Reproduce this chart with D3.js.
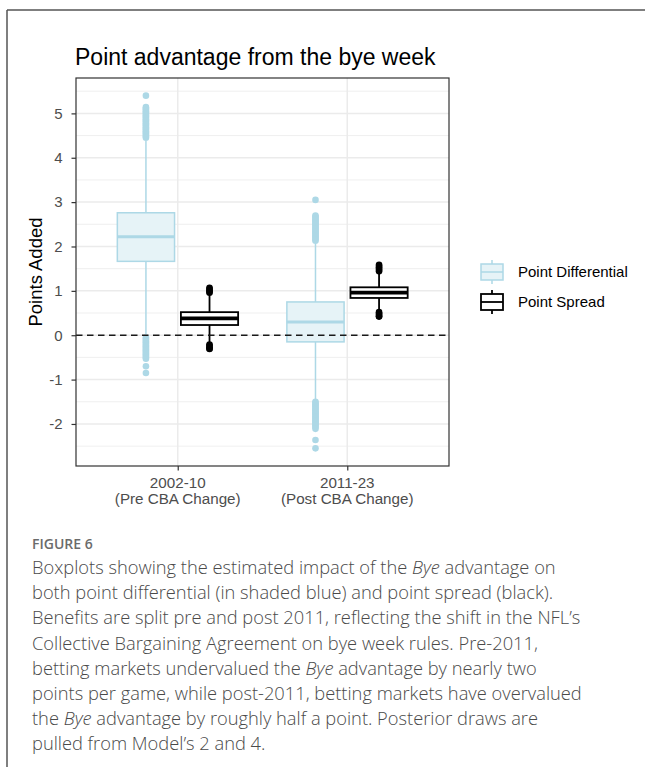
<!DOCTYPE html>
<html>
<head>
<meta charset="utf-8">
<script src="https://cdn.jsdelivr.net/npm/d3@7"></script>
<style>
  body { margin: 0; background: #fff; }
  svg { display: block; }
</style>
</head>
<body>
<svg></svg>
<script>
// categories and groups
const categories = ["2002-10", "2011-23"];
const categoryNotes = ["(Pre CBA Change)", "(Post CBA Change)"];
const groups = ["Point Differential", "Point Spread"];
const yTicks = [-2, -1, 0, 1, 2, 3, 4, 5];

// box stats, one value per category (pre, post)
const diffLow = [0.03, -1.47];
const diffQ1 = [1.665, -0.15];
const diffMedian = [2.22, 0.30];
const diffQ3 = [2.76, 0.75];
const diffHigh = [4.38, 2.07];

const spreadLow = [-0.18, 0.55];
const spreadQ1 = [0.23, 0.84];
const spreadMedian = [0.38, 0.96];
const spreadQ3 = [0.52, 1.08];
const spreadHigh = [0.94, 1.41];

// outliers
const diffOutliersPre = [5.40, 5.14, 5.11, 5.08, 5.05, 5.02, 4.99, 4.96, 4.93, 4.90, 4.87, 4.84, 4.81,
  4.78, 4.75, 4.72, 4.69, 4.66, 4.63, 4.60, 4.57, 4.54, 4.51, 4.48, 4.45,
  -0.05, -0.08, -0.11, -0.14, -0.17, -0.20, -0.23, -0.26, -0.29, -0.32, -0.35, -0.38, -0.41,
  -0.44, -0.47, -0.50, -0.53, -0.70, -0.85];
const diffOutliersPost = [3.05, 2.70, 2.67, 2.64, 2.61, 2.58, 2.55, 2.52, 2.49, 2.46, 2.43, 2.40, 2.37,
  2.34, 2.31, 2.28, 2.25, 2.22, 2.19, 2.16, 2.13,
  -1.50, -1.53, -1.56, -1.59, -1.62, -1.65, -1.68, -1.71, -1.74, -1.77, -1.80, -1.83, -1.86,
  -1.89, -1.92, -1.95, -1.98, -2.01, -2.04, -2.07, -2.11, -2.36, -2.55];
const spreadOutliersPre = [1.07, 1.04, 1.01, 0.98, 0.96, -0.21, -0.24, -0.27, -0.30, -0.31];
const spreadOutliersPost = [1.59, 1.56, 1.53, 1.50, 1.47, 1.44, 0.52, 0.49, 0.46, 0.43, 0.42];

const diffOutliers = [diffOutliersPre, diffOutliersPost];
const spreadOutliers = [spreadOutliersPre, spreadOutliersPost];

const captionLines = [
  ["Boxplots showing the estimated impact of the ", ["Bye"], " advantage on"],
  ["both point differential (in shaded blue) and point spread (black)."],
  ["Benefits are split pre and post 2011, reflecting the shift in the NFL\u2019s"],
  ["Collective Bargaining Agreement on bye week rules. Pre-2011,"],
  ["betting markets undervalued the ", ["Bye"], " advantage by nearly two"],
  ["points per game, while post-2011, betting markets have overvalued"],
  ["the ", ["Bye"], " advantage by roughly half a point. Posterior draws are"],
  ["pulled from Model\u2019s 2 and 4."]
];

let width = 645;
let height = 767;
let panel = { left: 76, right: 449, top: 78, bottom: 466 };
let plotFont = "'Liberation Sans', Arial, sans-serif";

let blue = "#add8e6";
let blueFill = "#e6f3f7";

let svg = d3.select("svg").attr("width", width).attr("height", height);

// build one row per box
let boxes = [];
categories.forEach((c, i) => {
  boxes.push({ cat: i, group: groups[0], low: diffLow[i], q1: diffQ1[i], med: diffMedian[i],
    q3: diffQ3[i], high: diffHigh[i], out: diffOutliers[i], stroke: blue, fill: blueFill, pt: blue, sw: 1.5 });
  boxes.push({ cat: i, group: groups[1], low: spreadLow[i], q1: spreadQ1[i], med: spreadMedian[i],
    q3: spreadQ3[i], high: spreadHigh[i], out: spreadOutliers[i], stroke: "#000", fill: "#fff", pt: "#000", sw: 1.8 });
});

// scales
let allVals = boxes.flatMap(b => b.out.concat([b.low, b.high]));
let yMin = d3.min(allVals), yMax = d3.max(allVals);
let yPad = (yMax - yMin) * 0.05;
let yScale = d3.scaleLinear().domain([yMin - yPad, yMax + yPad]).range([panel.bottom, panel.top]);

let xScale = d3.scaleLinear().domain([0.4, categories.length + 0.6]).range([panel.left, panel.right]);
let groupScale = d3.scaleBand().domain(groups).range([-0.375, 0.375]).paddingInner(0.1).paddingOuter(0.05);
let bw = groupScale.bandwidth();

let boxLeft = (b) => xScale(b.cat + 1 + groupScale(b.group));
let boxRight = (b) => xScale(b.cat + 1 + groupScale(b.group) + bw);
let boxMid = (b) => xScale(b.cat + 1 + groupScale(b.group) + bw / 2);

// outer frame
svg.append("line").attr("x1", 7).attr("x2", width).attr("y1", 10).attr("y2", 10)
  .attr("stroke", "#555").attr("stroke-width", 1.5);
svg.append("line").attr("x1", 7).attr("x2", 7).attr("y1", 10).attr("y2", height)
  .attr("stroke", "#555").attr("stroke-width", 1.5);

// panel
svg.append("rect").attr("x", panel.left).attr("y", panel.top)
  .attr("width", panel.right - panel.left).attr("height", panel.bottom - panel.top).attr("fill", "#fff");

let minorTicks = [yTicks[0] - 0.5].concat(yTicks.map(t => t + 0.5));
svg.append("g").selectAll("line").data(minorTicks).enter().append("line")
  .attr("x1", panel.left).attr("x2", panel.right)
  .attr("y1", d => yScale(d)).attr("y2", d => yScale(d))
  .attr("stroke", "#ebebeb").attr("stroke-width", 0.8);
svg.append("g").selectAll("line").data(yTicks).enter().append("line")
  .attr("x1", panel.left).attr("x2", panel.right)
  .attr("y1", d => yScale(d)).attr("y2", d => yScale(d))
  .attr("stroke", "#ebebeb").attr("stroke-width", 1.5);
svg.append("g").selectAll("line").data(categories).enter().append("line")
  .attr("x1", (d, i) => xScale(i + 1)).attr("x2", (d, i) => xScale(i + 1))
  .attr("y1", panel.top).attr("y2", panel.bottom)
  .attr("stroke", "#ebebeb").attr("stroke-width", 1.5);

// boxplots
let boxG = svg.append("g").selectAll("g").data(boxes).enter().append("g");

boxG.append("line").attr("x1", boxMid).attr("x2", boxMid)
  .attr("y1", b => yScale(b.q3)).attr("y2", b => yScale(b.high))
  .attr("stroke", b => b.stroke).attr("stroke-width", b => b.sw);
boxG.append("line").attr("x1", boxMid).attr("x2", boxMid)
  .attr("y1", b => yScale(b.q1)).attr("y2", b => yScale(b.low))
  .attr("stroke", b => b.stroke).attr("stroke-width", b => b.sw);
boxG.append("rect").attr("x", boxLeft).attr("width", b => boxRight(b) - boxLeft(b))
  .attr("y", b => yScale(b.q3)).attr("height", b => yScale(b.q1) - yScale(b.q3))
  .attr("fill", b => b.fill).attr("stroke", b => b.stroke).attr("stroke-width", b => b.sw);
boxG.append("line").attr("x1", boxLeft).attr("x2", boxRight)
  .attr("y1", b => yScale(b.med)).attr("y2", b => yScale(b.med))
  .attr("stroke", b => b.stroke).attr("stroke-width", b => b.sw * 2);
boxG.selectAll("circle").data(b => b.out.map(v => ({ v: v, b: b }))).enter().append("circle")
  .attr("cx", d => boxMid(d.b)).attr("cy", d => yScale(d.v)).attr("r", 3.3)
  .attr("fill", d => d.b.pt);

// zero line
svg.append("line").attr("x1", panel.left).attr("x2", panel.right)
  .attr("y1", yScale(0)).attr("y2", yScale(0))
  .attr("stroke", "#1a1a1a").attr("stroke-width", 1.5).attr("stroke-dasharray", "6.5,4.5");

// panel border
svg.append("rect").attr("x", panel.left).attr("y", panel.top)
  .attr("width", panel.right - panel.left).attr("height", panel.bottom - panel.top)
  .attr("fill", "none").attr("stroke", "#333").attr("stroke-width", 1.2);

// axes
let yAxis = d3.axisLeft(yScale).tickValues(yTicks).tickSize(4.5).tickPadding(9).tickFormat(d => String(d));
let yG = svg.append("g").attr("transform", "translate(" + panel.left + ",0)").call(yAxis);
let xAxis = d3.axisBottom(xScale).tickValues(categories.map((c, i) => i + 1)).tickSize(4.5).tickFormat("");
let xG = svg.append("g").attr("transform", "translate(0," + panel.bottom + ")").call(xAxis);

[yG, xG].forEach(g => {
  g.attr("font-size", 15).attr("font-family", plotFont);
  g.select(".domain").remove();
  g.selectAll(".tick line").attr("stroke", "#333").attr("stroke-width", 1.2);
  g.selectAll("text").attr("fill", "#4d4d4d").attr("font-size", 15).attr("font-family", plotFont);
});

let xLabels = svg.append("g").selectAll("text").data(categories).enter().append("text")
  .attr("text-anchor", "middle").attr("fill", "#4d4d4d")
  .attr("font-family", plotFont).attr("font-size", 15.2);
xLabels.append("tspan").attr("x", (d, i) => xScale(i + 1)).attr("y", 488).text(d => d);
xLabels.append("tspan").attr("x", (d, i) => xScale(i + 1)).attr("y", 504).text((d, i) => categoryNotes[i]);

// titles
svg.append("text").attr("x", 75).attr("y", 65).text("Point advantage from the bye week")
  .attr("font-family", plotFont).attr("font-size", 23).attr("fill", "#000");
svg.append("text").attr("transform", "translate(42," + (panel.top + panel.bottom) / 2 + ") rotate(-90)")
  .attr("text-anchor", "middle").text("Points Added")
  .attr("font-family", plotFont).attr("font-size", 18.5).attr("fill", "#000");

// legend
let legend = svg.append("g").selectAll("g").data(boxes.slice(0, 2)).enter().append("g")
  .attr("transform", (d, i) => "translate(492," + (272 + i * 30) + ")");
legend.append("line").attr("y1", -12).attr("y2", 12).attr("stroke", d => d.stroke).attr("stroke-width", d => d.sw);
legend.append("rect").attr("x", -11).attr("y", -8).attr("width", 22).attr("height", 16)
  .attr("fill", d => d.fill).attr("stroke", d => d.stroke).attr("stroke-width", d => d.sw);
legend.append("line").attr("x1", -11).attr("x2", 11).attr("stroke", d => d.stroke).attr("stroke-width", d => d.sw);
legend.append("text").attr("x", 26).attr("y", 5.3).text(d => d.group)
  .attr("font-family", plotFont).attr("font-size", 15).attr("fill", "#000");

// caption
let capFont = "'Open Sans', 'Noto Sans', sans-serif";
svg.append("text").attr("x", 32).attr("y", 549).text("FIGURE 6")
  .attr("font-family", capFont).attr("font-size", 14).attr("font-weight", 600).attr("fill", "#6b6b6b");
let cap = svg.append("g").selectAll("text").data(captionLines).enter().append("text")
  .attr("x", 32).attr("y", (d, i) => 574 + i * 25.2)
  .attr("font-family", capFont).attr("font-size", 18.3).attr("font-weight", 300).attr("fill", "#4a4a4a");
cap.selectAll("tspan").data(d => d).enter().append("tspan")
  .attr("font-style", d => Array.isArray(d) ? "italic" : "normal")
  .text(d => Array.isArray(d) ? d[0] : d);
</script>
</body>
</html>
